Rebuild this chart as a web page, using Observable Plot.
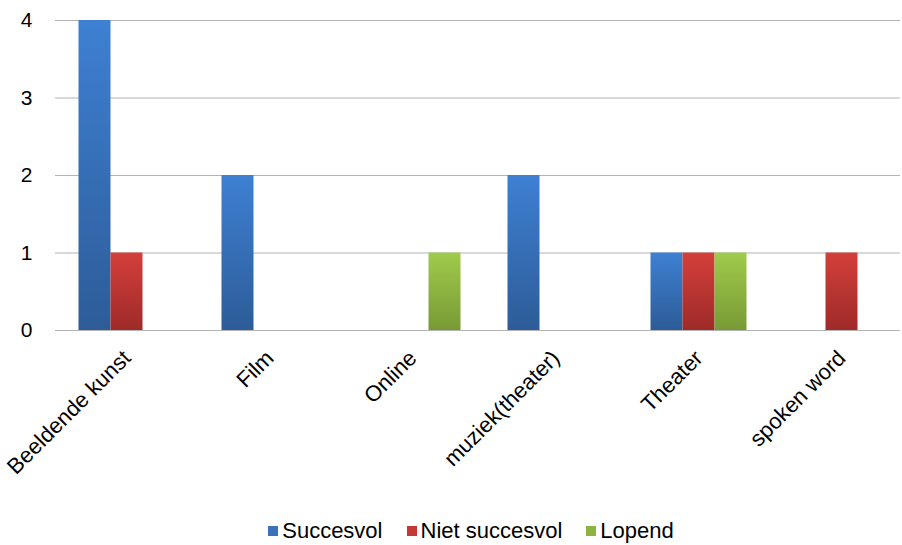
<!DOCTYPE html>
<html>
<head>
<meta charset="utf-8">
<script src="https://cdn.jsdelivr.net/npm/d3@7"></script>
<script src="https://cdn.jsdelivr.net/npm/@observablehq/plot@0.6"></script>
<style>
  body { margin: 0; background: #fff; font-family: "Liberation Sans", Arial, sans-serif; }
  #chart { width: 902px; }
  .legend { display: flex; justify-content: center; align-items: center; gap: 24px; font-size: 22px; line-height: 24px; color: #000; margin-top: 14px; padding-left: 40px; }
  .legend span.item { display: inline-flex; align-items: center; }
  .legend span.sw { width: 10px; height: 10px; display: inline-block; margin-right: 4px; }
</style>
</head>
<body>
<div id="chart"></div>
<script>
const categories = ["Beeldende kunst", "Film", "Online", "muziek(theater)", "Theater", "spoken word"];
const seriesNames = ["Succesvol", "Niet succesvol", "Lopend"];
const succesvol = [4, 2, 0, 2, 1, 0];
const nietSuccesvol = [1, 0, 0, 0, 1, 1];
const lopend = [0, 0, 1, 0, 1, 0];
const yTicks = [0, 1, 2, 3, 4];

const seriesValues = [succesvol, nietSuccesvol, lopend];
const gradients = [
  ["#3e80d2", "#2d5c98"],
  ["#d43f3b", "#9e2b29"],
  ["#a0cb4c", "#789a35"]
];
const swatches = ["#3a73bb", "#c13a36", "#8fb341"];

const barW = 32;
const bandW = 143;
const x0 = 55;

const marks = [
  Plot.ruleY(yTicks, {stroke: "#b3b3b3", strokeWidth: 1.2})
];
seriesValues.forEach((vals, si) => {
  const rows = categories.map((c, i) => ({category: c, value: vals[i]})).filter(d => d.value > 0);
  marks.push(Plot.barY(rows, {
    x: "category",
    y: "value",
    fill: `url(#grad${si})`,
    insetLeft: (bandW - barW) / 2,
    insetRight: (bandW - barW) / 2,
    dx: (si - 1) * barW,
    style: {filter: "drop-shadow(1px 1px 1.5px rgba(0,0,0,0.25))"}
  }));
});
marks.push(Plot.axisY({ticks: yTicks, tickSize: 0, tickPadding: 23, fontSize: 21, tickFormat: d => String(d)}));
marks.push(Plot.axisX({tickSize: 0, tickRotate: -45, tickPadding: 24, fontSize: 22}));

const plot = Plot.plot({
  width: 902,
  height: 505,
  marginTop: 20,
  marginBottom: 175,
  marginLeft: 55,
  marginRight: 2,
  style: {fontFamily: "'Liberation Sans', Arial, sans-serif", color: "#000", background: "#fff"},
  x: {domain: categories, range: [x0, x0 + bandW * categories.length], padding: 0, label: null},
  y: {domain: [0, 4], label: null},
  marks
});

const ns = "http://www.w3.org/2000/svg";
const defs = document.createElementNS(ns, "defs");
gradients.forEach((g, i) => {
  const lg = document.createElementNS(ns, "linearGradient");
  lg.setAttribute("id", "grad" + i);
  lg.setAttribute("x1", "0"); lg.setAttribute("y1", "0");
  lg.setAttribute("x2", "0"); lg.setAttribute("y2", "1");
  [[0, g[0]], [1, g[1]]].forEach(([o, c]) => {
    const s = document.createElementNS(ns, "stop");
    s.setAttribute("offset", o);
    s.setAttribute("stop-color", c);
    lg.appendChild(s);
  });
  defs.appendChild(lg);
});
plot.insertBefore(defs, plot.firstChild);
document.getElementById("chart").appendChild(plot);

const legend = document.createElement("div");
legend.className = "legend";
seriesNames.forEach((n, i) => {
  const item = document.createElement("span");
  item.className = "item";
  const sw = document.createElement("span");
  sw.className = "sw";
  sw.style.background = swatches[i];
  item.appendChild(sw);
  item.appendChild(document.createTextNode(n));
  legend.appendChild(item);
});
document.getElementById("chart").appendChild(legend);
</script>
</body>
</html>
